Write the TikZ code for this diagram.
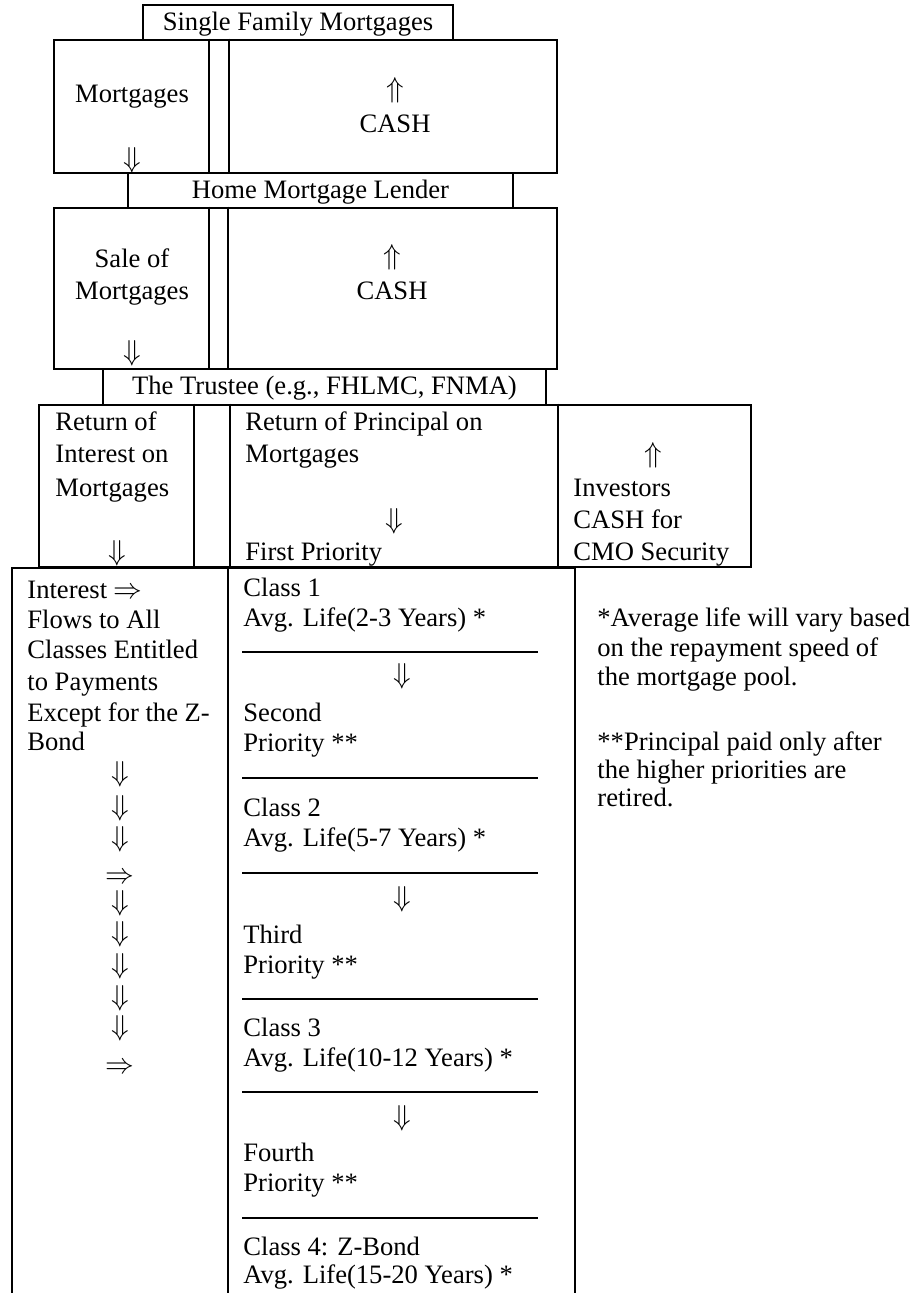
\documentclass[tikz,border=0pt]{standalone}
\usepackage{fontspec}
\setmainfont{Liberation Serif}
\usetikzlibrary{positioning}

\begin{document}
\begin{tikzpicture}[x=0.5pt, y=-0.5pt, node distance=17.5pt, on grid,
    frame/.style={rectangle, draw, line width=1.4pt, inner sep=0pt},
    split/.style={line width=0.8pt},
    rule/.style={line width=0.6pt},
    txt/.style={inner sep=0pt, font=\fontsize{13.3}{15}\selectfont,
      text height=10pt, text depth=2pt},
    ltxt/.style={txt, anchor=west}
    ]
\useasboundingbox (0,0) rectangle (912,1293);

% boxes
\node[frame, txt, minimum width=155pt, minimum height=17.5pt] (family) at (298,22.5) {Single Family Mortgages};
\node[frame, minimum width=251.5pt, minimum height=66.5pt] (sell1) at (305.5,106.5) {};
\node[frame, txt, minimum width=192.5pt, minimum height=17.5pt] (lender) at (320.5,190.5) {Home Mortgage Lender};
\node[frame, minimum width=251.5pt, minimum height=80.5pt] (sell2) at (305.5,288.5) {};
\node[frame, txt, minimum width=221.5pt, minimum height=18pt] (trustee) at (324.5,387) {The Trustee (e.g., FHLMC, FNMA)};
\node[frame, minimum width=356pt, minimum height=81pt] (returns) at (395,486) {};
\node[frame, minimum width=281.5pt, minimum height=372.5pt] (tranches) at (293.5,940.5) {};

\draw[split] (209,0 |- sell1.north) -- (209,0 |- sell1.south);
\draw[split] (229,0 |- sell1.north) -- (229,0 |- sell1.south);
\draw[split] (209,0 |- sell2.north) -- (209,0 |- sell2.south);
\draw[split] (228,0 |- sell2.north) -- (228,0 |- sell2.south);
\draw[split] (194,0 |- returns.north) -- (194,0 |- returns.south);
\draw[split] (230,0 |- returns.north) -- (230,0 |- returns.south);
\draw[split] (558,0 |- returns.north) -- (558,0 |- returns.south);
\draw[split] (228,0 |- tranches.north) -- (228,0 |- tranches.south);

% lender and trustee rows
\node[txt] (mort1) at (132,95) {Mortgages};
\node[txt] (down1) at (132,160) {$\Downarrow$};
\node[txt] (up1) at (395,90) {$\Uparrow$};
\node[txt, below=of up1] (cash1) {CASH};

\node[txt] (sale) at (132,260) {Sale of};
\node[txt] (mort2) at (132,292) {Mortgages};
\node[txt] (down2) at (132,353) {$\Downarrow$};
\node[txt] (up2) at (392,257) {$\Uparrow$};
\node[txt, below=of up2] (cash2) {CASH};

% returns
\node[ltxt] (int1) at (55,423) {Return of};
\node[ltxt] (int2) at (55,455) {Interest on};
\node[ltxt] (int3) at (55,488) {Mortgages};
\node[txt] (intdown) at (117,552) {$\Downarrow$};
\node[ltxt] (prin1) at (245,423) {Return of Principal on};
\node[ltxt] (prin2) at (245,455) {Mortgages};
\node[txt] (prindown) at (394,520) {$\Downarrow$};
\node[ltxt] (first) at (245,552) {First Priority};
\node[txt] (invup) at (653,455) {$\Uparrow$};
\node[ltxt] (inv1) at (573,488) {Investors};
\node[ltxt] (inv2) at (573,520) {CASH for};
\node[ltxt] (inv3) at (573,552) {CMO Security};

% interest column
\node[ltxt] (flow1) at (27,590) {Interest $\Rightarrow$};
\node[ltxt] (flow2) at (27,620) {Flows to All};
\node[ltxt] (flow3) at (27,650) {Classes Entitled};
\node[ltxt] (flow4) at (27,682) {to Payments};
\node[ltxt] (flow5) at (27,713) {Except for the Z-};
\node[ltxt] (flow6) at (27,742) {Bond};
\foreach \y [count=\i] in {773,807,838,902,933,965,997,1027}
  \node[txt] (fdown\i) at (120,\y) {$\Downarrow$};
\node[txt] (fright1) at (120,875) {$\Rightarrow$};
\node[txt] (fright2) at (120,1065) {$\Rightarrow$};

% classes
\node[ltxt] (cls1) at (243,588) {Class 1};
\node[ltxt] (life1) at (243,618) {Avg. Life(2-3 Years) *};
\node[txt] (pdown1) at (402,675) {$\Downarrow$};
\node[ltxt] (prio2) at (243,713) {Second};
\node[ltxt] (prio2b) at (243,743) {Priority **};
\node[ltxt] (cls2) at (243,808) {Class 2};
\node[ltxt] (life2) at (243,838) {Avg. Life(5-7 Years) *};
\node[txt] (pdown2) at (402,898) {$\Downarrow$};
\node[ltxt] (prio3) at (243,935) {Third};
\node[ltxt] (prio3b) at (243,965) {Priority **};
\node[ltxt] (cls3) at (243,1028) {Class 3};
\node[ltxt] (life3) at (243,1058) {Avg. Life(10-12 Years) *};
\node[txt] (pdown3) at (402,1117) {$\Downarrow$};
\node[ltxt] (prio4) at (243,1153) {Fourth};
\node[ltxt] (prio4b) at (243,1183) {Priority **};
\node[ltxt] (cls4) at (243,1247) {Class 4: Z-Bond};
\node[ltxt] (life4) at (243,1275) {Avg. Life(15-20 Years) *};
\foreach \y in {652,778,873,999,1092,1218}
  \draw[rule] (242,\y) -- (538,\y);

% notes
\node[ltxt] (note1) at (597,618) {*Average life will vary based};
\node[ltxt] (note2) at (597,648) {on the repayment speed of};
\node[ltxt] (note3) at (597,677) {the mortgage pool.};
\node[ltxt] (note4) at (597,742) {**Principal paid only after};
\node[ltxt] (note5) at (597,770) {the higher priorities are};
\node[ltxt] (note6) at (597,798) {retired.};
\end{tikzpicture}
\end{document}
